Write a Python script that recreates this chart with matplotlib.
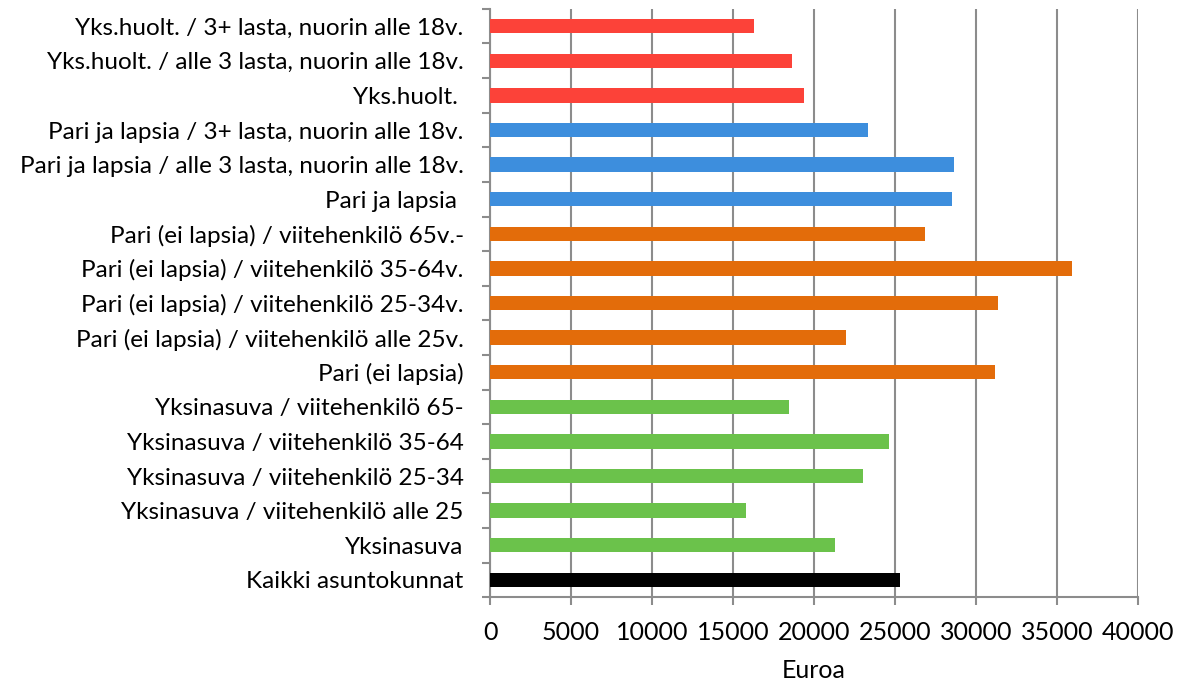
import matplotlib.pyplot as plt
import numpy as np

# Luokat alhaalta ylös
luokat = [
    "Kaikki asuntokunnat",
    "Yksinasuva",
    "Yksinasuva / viitehenkilö alle 25",
    "Yksinasuva / viitehenkilö 25-34",
    "Yksinasuva / viitehenkilö 35-64",
    "Yksinasuva / viitehenkilö 65-",
    "Pari (ei lapsia)",
    "Pari (ei lapsia) / viitehenkilö alle 25v.",
    "Pari (ei lapsia) / viitehenkilö 25-34v.",
    "Pari (ei lapsia) / viitehenkilö 35-64v.",
    "Pari (ei lapsia) / viitehenkilö 65v.-",
    "Pari ja lapsia ",
    "Pari ja lapsia / alle 3 lasta, nuorin alle 18v.",
    "Pari ja lapsia / 3+ lasta, nuorin alle 18v.",
    "Yks.huolt. ",
    "Yks.huolt. / alle 3 lasta, nuorin alle 18v.",
    "Yks.huolt. / 3+ lasta, nuorin alle 18v.",
]
arvot = [25300, 21300, 15800, 23050, 24600, 18450,
         31200, 22000, 31350, 35900, 26850,
         28500, 28650, 23350,
         19400, 18650, 16300]
ryhmat = ["kaikki", "yksin", "yksin", "yksin", "yksin", "yksin",
          "pari", "pari", "pari", "pari", "pari",
          "lapset", "lapset", "lapset",
          "yh", "yh", "yh"]
varit = {"kaikki": "#000000", "yksin": "#6BC24B", "pari": "#E36C0A",
         "lapset": "#3D8EDD", "yh": "#FC4239"}

plt.rcParams['font.family'] = ['Lato', 'DejaVu Sans']

fig = plt.figure(figsize=(11.78, 6.84), dpi=100)
ax = fig.add_axes([0.416, 0.127, 0.55, 0.86])

y = np.arange(len(luokat))
ax.barh(y, arvot, height=0.42, color=[varit[r] for r in ryhmat], zorder=3)

ax.set_xlim(0, 40000)
ax.set_ylim(-0.5, len(luokat) - 0.5)
ax.set_xticks(np.arange(0, 40001, 5000))
ax.set_yticks(y)
ax.set_yticklabels(luokat)
ax.set_yticks(np.arange(-0.5, len(luokat), 1), minor=True)

ax.grid(axis='x', color='#8c8c8c', linewidth=1.5, zorder=0)
for s in ['top', 'right']:
    ax.spines[s].set_visible(False)
for s in ['left', 'bottom']:
    ax.spines[s].set_color('#8c8c8c')
    ax.spines[s].set_linewidth(1.5)

ax.tick_params(axis='y', which='major', length=0, pad=19, labelsize=17.5)
ax.tick_params(axis='y', which='minor', length=6, width=1.5, color='#8c8c8c')
ax.tick_params(axis='x', which='major', length=6, width=1.5, color='#8c8c8c',
               labelsize=18, pad=11)
ax.set_xlabel("Euroa", fontsize=18, labelpad=11)

plt.savefig("out.png")
